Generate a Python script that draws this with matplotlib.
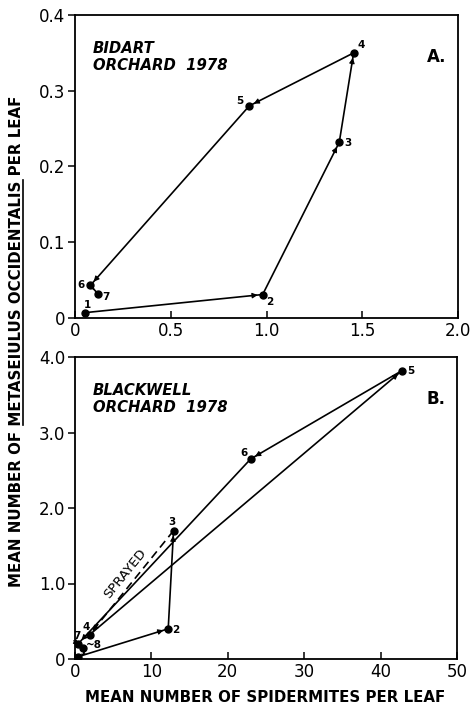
import numpy as np
import matplotlib
matplotlib.use("Agg")
import matplotlib.pyplot as plt
from matplotlib import font_manager

# ---------- data ----------
a_x = [0.05, 0.98, 1.38, 1.455, 0.91, 0.08, 0.12]
a_y = [0.007, 0.031, 0.232, 0.350, 0.280, 0.043, 0.032]
a_lab = ["1", "2", "3", "4", "5", "6", "7"]
a_off = [(3, 8), (7, -7), (9, -1), (8, 8), (-9, 5), (-9, 0), (8, -3)]

b_x = [0.4, 12.2, 12.9, 1.9, 42.8, 23.0, 0.4, 1.1]
b_y = [0.03, 0.40, 1.70, 0.32, 3.82, 2.65, 0.20, 0.15]
b_lab = ["1", "2", "3", "4", "5", "6", "7", "~8"]
b_off = [(5, 5), (8, -1), (-2, 9), (-3, 8), (9, 0), (-7, 6), (-1, 8), (10, 3)]
b_dashed = [2]  # segment 3 -> 4 (sprayed)

a_xticks = [0, 0.5, 1.0, 1.5, 2.0]
a_xtlab = ["0", "0.5", "1.0", "1.5", "2.0"]
a_yticks = [0, 0.1, 0.2, 0.3, 0.4]
a_ytlab = ["0", "0.1", "0.2", "0.3", "0.4"]
b_xticks = [0, 10, 20, 30, 40, 50]
b_xtlab = ["0", "10", "20", "30", "40", "50"]
b_yticks = [0, 1, 2, 3, 4]
b_ytlab = ["0", "1.0", "2.0", "3.0", "4.0"]

# narrow font if present
names = {f.name for f in font_manager.fontManager.ttflist}
narrow = 'Liberation Sans Narrow' if 'Liberation Sans Narrow' in names else 'DejaVu Sans'

W, H = 472, 712
fig = plt.figure(figsize=(W / 100, H / 100), dpi=100)
r = fig.canvas.get_renderer()

axA = fig.add_axes([75 / W, 1 - 318 / H, 383 / W, 303 / H])
axB = fig.add_axes([75 / W, 1 - 659 / H, 382 / W, 302 / H])


def fit_size(s, target, **kw):
    # font size giving a text width of `target` pixels
    t = fig.text(0, 0, s, fontsize=10, **kw)
    wd = t.get_window_extent(r).width
    t.remove()
    return 10 * target / wd


def style(ax, xt, xtl, yt, ytl, xlim, ylim):
    ax.set_xlim(*xlim)
    ax.set_ylim(*ylim)
    ax.set_xticks(xt)
    ax.set_xticklabels(xtl)
    ax.set_yticks(yt)
    ax.set_yticklabels(ytl)
    ax.tick_params(axis='x', direction='in', length=5, width=1.1, labelsize=12, pad=3)
    ax.tick_params(axis='y', direction='out', length=5, width=1.1, labelsize=12, pad=2)
    for s in ax.spines.values():
        s.set_linewidth(1.3)


def arrow_head(ax, p0, p1, back=5, size=7):
    # small filled arrowhead just before the destination point
    d0 = ax.transData.transform(p0)
    d1 = ax.transData.transform(p1)
    v = d1 - d0
    u = v / np.hypot(*v)
    tip = d1 - u * back
    tail = tip - u * size
    inv = ax.transData.inverted()
    ax.annotate('', xy=inv.transform(tip), xytext=inv.transform(tail),
                arrowprops=dict(arrowstyle='-|>', color='k', lw=0.8,
                                mutation_scale=8, shrinkA=0, shrinkB=0))


def draw_path(ax, xs, ys, labels, offs, dashed=()):
    for i in range(len(xs) - 1):
        ls = (0, (5, 3)) if i in dashed else '-'
        ax.plot(xs[i:i + 2], ys[i:i + 2], color='k', lw=1.2, ls=ls)
        arrow_head(ax, (xs[i], ys[i]), (xs[i + 1], ys[i + 1]))
    ax.plot(xs, ys, 'o', color='k', ms=5, ls='none')
    for x, y, t, o in zip(xs, ys, labels, offs):
        ax.annotate(t, (x, y), xytext=o, textcoords='offset pixels',
                    ha='center', va='center', fontsize=7.5, fontweight='bold')


style(axA, a_xticks, a_xtlab, a_yticks, a_ytlab, (0, 2.0), (0, 0.4))
style(axB, b_xticks, b_xtlab, b_yticks, b_ytlab, (0, 50), (0, 4.0))

draw_path(axA, a_x, a_y, a_lab, a_off)
draw_path(axB, b_x, b_y, b_lab, b_off, b_dashed)

# panel texts
pk = dict(style='italic', fontweight='bold', family=narrow)
psize = fit_size("ORCHARD  1978", 134, **pk)
tprops = dict(ha='left', va='top', fontsize=psize, linespacing=1.2, **pk)
axA.text(0.047, 0.915, "BIDART\nORCHARD  1978", transform=axA.transAxes, **tprops)
axA.text(0.92, 0.86, "A.", transform=axA.transAxes, ha='left', va='center',
         fontsize=12, fontweight='bold')
axB.text(0.047, 0.915, "BLACKWELL\nORCHARD  1978", transform=axB.transAxes, **tprops)
axB.text(0.92, 0.86, "B.", transform=axB.transAxes, ha='left', va='center',
         fontsize=12, fontweight='bold')
axB.text(6.6, 1.13, "SPRAYED", rotation=51, ha='center', va='center',
         fontsize=9.5, rotation_mode='anchor')

# axis labels
fig.text(265 / W, 1 - 697 / H, "MEAN NUMBER OF SPIDERMITES PER LEAF",
         ha='center', va='center', fontsize=10.8, fontweight='bold')

pre = "MEAN NUMBER OF "
und = "METASEIULUS OCCIDENTALIS"
full = pre + und + " PER LEAF"
yk = dict(fontweight='bold', family=narrow)
yprops = dict(fontsize=fit_size(full, 493, **yk), **yk)
ylab = fig.text(17 / W, 1 - 341 / H, full, rotation=90, ha='center',
                va='center', **yprops)

tmp = [fig.text(0, 0, s, **yprops) for s in (pre, pre + und, full)]
w = [t.get_window_extent(r).width for t in tmp]
for t in tmp:
    t.remove()
bb = ylab.get_window_extent(r)
span = bb.y1 - bb.y0
y0 = bb.y0 + span * w[0] / w[2]
y1 = bb.y0 + span * w[1] / w[2]
xu = bb.x1 - 2
fig.add_artist(plt.Line2D([xu / W, xu / W], [y0 / H, y1 / H], color='k', lw=1.2,
                          transform=fig.transFigure))

fig.savefig("out.png", dpi=100)
